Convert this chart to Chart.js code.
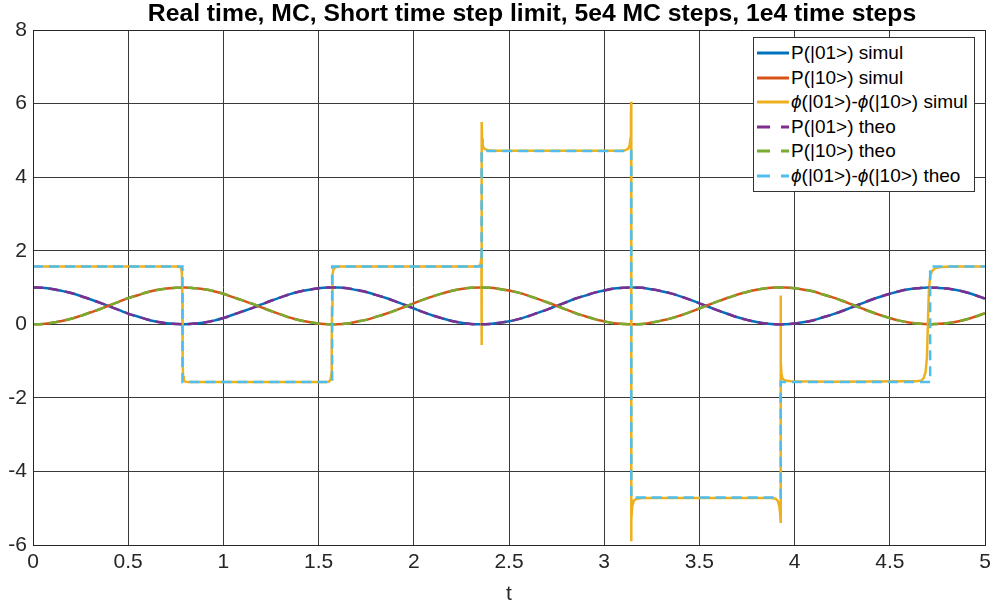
<!DOCTYPE html>
<html>
<head>
<meta charset="utf-8">
<script src="https://cdn.jsdelivr.net/npm/chart.js@4.4.1/dist/chart.umd.min.js"></script>
<style>
  html, body { margin: 0; padding: 0; background: #fff; }
  #wrap { position: relative; width: 992px; height: 608px; overflow: hidden; font-family: 'Liberation Sans', Arial, Helvetica, sans-serif; }
  #chart { position: absolute; left: 0; top: 0; }
  #title { position: absolute; top: 0; left: 532px; transform: translateX(-50%); white-space: nowrap; font-weight: bold; font-size: 24.7px; line-height: 25px; color: #000; }
  #legend { position: absolute; left: 753px; top: 37px; width: 220px; background: #fff; border: 1px solid #333; padding: 3px 0 3px 0; }
  .row { display: flex; align-items: center; height: 24.5px; font-size: 19px; color: #000; white-space: nowrap; }
  .row svg { margin: 0 2px 0 3px; flex: none; }
</style>
</head>
<body>
<div id="wrap">
  <canvas id="chart" width="992" height="608"></canvas>
  <div id="title">Real time, MC, Short time step limit, 5e4 MC steps, 1e4 time steps</div>
  <div id="legend"></div>
</div>
<script>
// sample times for the population curves
const tSamples = [0,0.05,0.1,0.15,0.2,0.25,0.3,0.35,0.4,0.45,0.5,0.55,0.6,0.65,0.7,0.75,0.8,0.85,0.9,0.95,
  1,1.05,1.1,1.15,1.2,1.25,1.3,1.35,1.4,1.45,1.5,1.55,1.6,1.65,1.7,1.75,1.8,1.85,1.9,1.95,
  2,2.05,2.1,2.15,2.2,2.25,2.3,2.35,2.4,2.45,2.5,2.55,2.6,2.65,2.7,2.75,2.8,2.85,2.9,2.95,
  3,3.05,3.1,3.15,3.2,3.25,3.3,3.35,3.4,3.45,3.5,3.55,3.6,3.65,3.7,3.75,3.8,3.85,3.9,3.95,
  4,4.05,4.1,4.15,4.2,4.25,4.3,4.35,4.4,4.45,4.5,4.55,4.6,4.65,4.7,4.75,4.8,4.85,4.9,4.95,5];

// P(|01>) - simul and theo lie on top of each other
const p01 = [1.00,0.99,0.96,0.91,0.85,0.77,0.68,0.59,0.49,0.39,
  0.29,0.21,0.13,0.07,0.03,0.01,0.00,0.02,0.05,0.10,
  0.17,0.26,0.35,0.44,0.54,0.64,0.73,0.82,0.89,0.94,
  0.98,1.00,1.00,0.98,0.93,0.88,0.80,0.72,0.63,0.53,
  0.43,0.33,0.24,0.16,0.09,0.04,0.01,0.00,0.01,0.04,
  0.08,0.14,0.22,0.31,0.40,0.50,0.60,0.70,0.78,0.86,
  0.92,0.97,0.99,1.00,0.99,0.95,0.90,0.84,0.76,0.67,
  0.57,0.47,0.37,0.28,0.19,0.12,0.06,0.02,0.00,0.00,
  0.02,0.06,0.11,0.19,0.27,0.36,0.46,0.56,0.66,0.75,
  0.83,0.90,0.95,0.98,1.00,0.99,0.97,0.93,0.87,0.79,
  0.70];

// P(|10>)
const p10 = [0.00,0.01,0.04,0.09,0.15,0.23,0.32,0.41,0.51,0.61,
  0.71,0.79,0.87,0.93,0.97,0.99,1.00,0.98,0.95,0.90,
  0.83,0.74,0.65,0.56,0.46,0.36,0.27,0.18,0.11,0.06,
  0.02,0.00,0.00,0.02,0.07,0.12,0.20,0.28,0.37,0.47,
  0.57,0.67,0.76,0.84,0.91,0.96,0.99,1.00,0.99,0.96,
  0.92,0.86,0.78,0.69,0.60,0.50,0.40,0.30,0.22,0.14,
  0.08,0.03,0.01,0.00,0.01,0.05,0.10,0.16,0.24,0.33,
  0.43,0.53,0.63,0.72,0.81,0.88,0.94,0.98,1.00,1.00,
  0.98,0.94,0.89,0.81,0.73,0.64,0.54,0.44,0.34,0.25,
  0.17,0.10,0.05,0.02,0.00,0.01,0.03,0.07,0.13,0.21,
  0.30];

// phase difference, simulation (rounded corners and spikes at the jumps)
const phaseSimT = [0, 0.76, 0.772, 0.778, 0.782, 0.7845, 0.786, 0.788, 0.792, 0.80, 0.815,
  1.54, 1.555, 1.563, 1.567, 1.569, 1.571, 1.573, 1.578, 1.588, 1.61,
  2.33, 2.345, 2.352, 2.355, 2.356, 2.357, 2.3585, 2.362, 2.37, 2.39, 2.42,
  3.09, 3.11, 3.125, 3.133, 3.138, 3.1405, 3.1412, 3.1418, 3.143, 3.147, 3.155, 3.17, 3.2,
  3.88, 3.90, 3.912, 3.92, 3.924, 3.926, 3.927, 3.9285, 3.931, 3.937, 3.95, 3.98, 4.2, 4.6,
  4.64, 4.665, 4.678, 4.688, 4.695, 4.70, 4.705, 4.712, 4.722, 4.74, 4.77, 4.82, 5];
const phaseSimV = [1.571, 1.571, 1.56, 1.52, 1.40, 0.8, -1.0, -1.40, -1.52, -1.56, -1.571,
  -1.571, -1.56, -1.50, -1.35, -0.5, 0.5, 1.35, 1.49, 1.55, 1.571,
  1.571, 1.59, 1.66, 1.85, -0.56, 5.50, 5.05, 4.85, 4.77, 4.73, 4.715,
  4.715, 4.73, 4.77, 4.85, 5.05, 5.6, 6.05, -5.9, -5.3, -4.95, -4.8, -4.74, -4.72,
  -4.72, -4.74, -4.8, -4.95, -5.15, -5.40, 0.78, -1.0, -1.35, -1.48, -1.53, -1.55, -1.56, -1.55,
  -1.55, -1.53, -1.46, -1.3, -0.9, 0, 0.9, 1.3, 1.45, 1.53, 1.56, 1.571, 1.571];

// phase difference, theory (step function)
const phaseTheoT = [0, 0.785, 0.785, 1.571, 1.571, 2.356, 2.356, 3.142, 3.142, 3.927, 3.927, 4.712, 4.712, 5];
const phaseTheoV = [1.571, 1.571, -1.571, -1.571, 1.571, 1.571, 4.712, 4.712, -4.712, -4.712, -1.571, -1.571, 1.571, 1.571];

const seriesLabels = ['P(|01>) simul', 'P(|10>) simul', 'ϕ(|01>)-ϕ(|10>) simul', 'P(|01>) theo', 'P(|10>) theo', 'ϕ(|01>)-ϕ(|10>) theo'];
const seriesColors = ['#0072BD', '#D95319', '#EDB120', '#7E2F8E', '#77AC30', '#4DBEEE'];

const FONT = "'Liberation Sans', Arial, Helvetica, sans-serif";
const dash = [10, 6];

function pts(xs, ys) {
  return xs.map((x, i) => ({ x, y: ys[i] }));
}

const datasets = [
  { data: pts(tSamples, p01), tension: 0.4, order: 6 },
  { data: pts(tSamples, p10), tension: 0.4, order: 5 },
  { data: pts(phaseSimT, phaseSimV), tension: 0, order: 4 },
  { data: pts(tSamples, p01), tension: 0.4, order: 3, borderDash: dash },
  { data: pts(tSamples, p10), tension: 0.4, order: 2, borderDash: dash },
  { data: pts(phaseTheoT, phaseTheoV), tension: 0, order: 1, borderDash: dash }
].map((d, i) => ({
  label: seriesLabels[i],
  borderColor: seriesColors[i],
  backgroundColor: seriesColors[i],
  borderWidth: 2.5,
  pointRadius: 0,
  fill: false,
  ...d
}));

const boxPlugin = {
  id: 'box',
  afterDraw(chart) {
    const { ctx, chartArea: a } = chart;
    ctx.save();
    ctx.strokeStyle = '#262626';
    ctx.lineWidth = 1;
    ctx.strokeRect(Math.round(a.left) + 0.5, Math.round(a.top) + 0.5, Math.round(a.right - a.left), Math.round(a.bottom - a.top));
    ctx.restore();
  }
};

const tickFont = { family: FONT, size: 21 };
const fmt = (v) => String(Math.round(v * 10) / 10);

new Chart(document.getElementById('chart'), {
  type: 'line',
  data: { datasets },
  options: {
    responsive: false,
    animation: false,
    devicePixelRatio: 1,
    layout: { padding: { top: 30, right: 7, left: 0, bottom: 0 } },
    plugins: { legend: { display: false }, tooltip: { enabled: false }, title: { display: false } },
    scales: {
      x: {
        type: 'linear', min: 0, max: 5,
        ticks: { stepSize: 0.5, padding: 5, color: '#262626', font: tickFont, maxRotation: 0, autoSkip: false, callback: fmt },
        grid: { color: '#3a3a3a', lineWidth: 1, drawTicks: false },
        border: { display: false },
        title: { display: true, text: 't', color: '#262626', font: { family: FONT, size: 21 }, padding: { top: 0, bottom: 1 } },
        afterFit: (s) => { s.height = 63; s.paddingLeft = 0; s.paddingRight = 0; }
      },
      y: {
        type: 'linear', min: -6, max: 8,
        ticks: { stepSize: 2, padding: 6, color: '#262626', font: tickFont, callback: fmt },
        grid: { color: '#3a3a3a', lineWidth: 1, drawTicks: false },
        border: { display: false },
        afterFit: (s) => { s.width = 33; }
      }
    }
  },
  plugins: [boxPlugin]
});

// legend in the MATLAB style box, built from the dataset list
const legend = document.getElementById('legend');
datasets.forEach((d) => {
  const row = document.createElement('div');
  row.className = 'row';
  const dashed = d.borderDash ? 'stroke-dasharray="13 11"' : '';
  const label = d.label.replace(/ϕ/g, '<i>ϕ</i>');
  row.innerHTML = `<svg width="32" height="6"><line x1="0" y1="3" x2="32" y2="3" stroke="${d.borderColor}" stroke-width="3" ${dashed}/></svg><span>${label}</span>`;
  legend.appendChild(row);
});
</script>
</body>
</html>
